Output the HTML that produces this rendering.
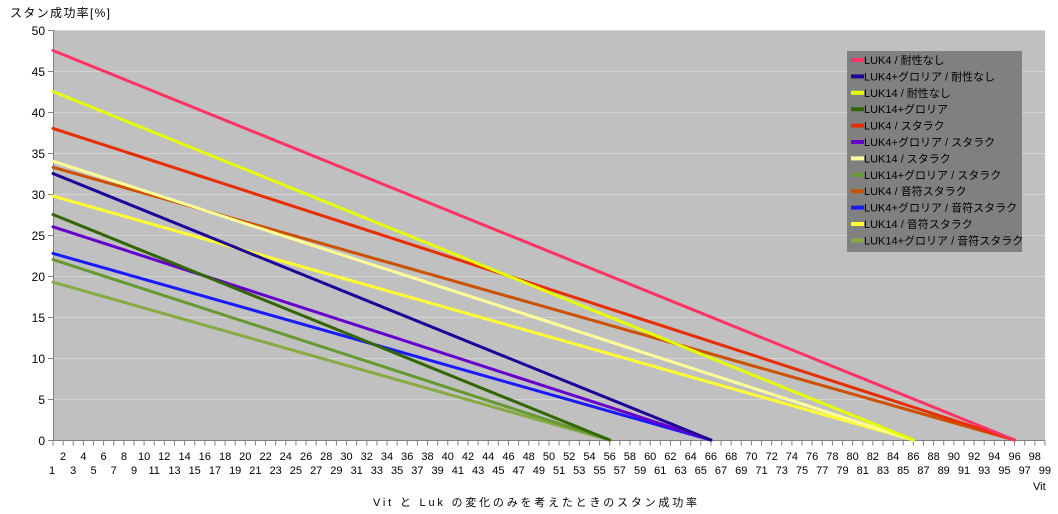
<!DOCTYPE html>
<html><head><meta charset="utf-8"><style>
html,body{margin:0;padding:0;background:#fff;width:1058px;height:514px;overflow:hidden}
svg text{font-family:"Liberation Sans","Noto Sans CJK JP",sans-serif;}
</style></head><body>
<svg width="1058" height="514" viewBox="0 0 1058 514" xmlns="http://www.w3.org/2000/svg">
<rect x="53" y="30" width="992" height="410" fill="#c0c0c0"/>
<g stroke="#d4d4d4" stroke-width="1">
<line x1="53" x2="1045" y1="30.5" y2="30.5"/>
<line x1="53" x2="1045" y1="71.5" y2="71.5"/>
<line x1="53" x2="1045" y1="112.5" y2="112.5"/>
<line x1="53" x2="1045" y1="153.5" y2="153.5"/>
<line x1="53" x2="1045" y1="194.5" y2="194.5"/>
<line x1="53" x2="1045" y1="235.5" y2="235.5"/>
<line x1="53" x2="1045" y1="276.5" y2="276.5"/>
<line x1="53" x2="1045" y1="317.5" y2="317.5"/>
<line x1="53" x2="1045" y1="358.5" y2="358.5"/>
<line x1="53" x2="1045" y1="399.5" y2="399.5"/>
</g>
<g stroke="#808080" stroke-width="1">
<line x1="53.5" x2="53.5" y1="30" y2="440"/>
<line x1="53" x2="1045" y1="440.5" y2="440.5"/>
<path d="M48 30.5h5M48 71.5h5M48 112.5h5M48 153.5h5M48 194.5h5M48 235.5h5M48 276.5h5M48 317.5h5M48 358.5h5M48 399.5h5M48 440.5h5"/>
<line x1="52.5" x2="1046" y1="443" y2="443" stroke-width="5" stroke-dasharray="1 9.122"/>
</g>
<g font-size="12" fill="#000" text-anchor="end">
<text x="45" y="35">50</text><text x="45" y="76">45</text><text x="45" y="117">40</text><text x="45" y="158">35</text><text x="45" y="199">30</text><text x="45" y="240">25</text><text x="45" y="281">20</text><text x="45" y="322">15</text><text x="45" y="363">10</text><text x="45" y="404">5</text><text x="45" y="445">0</text>
</g>
<g font-size="11" fill="#000" text-anchor="middle">
<text x="63.1" y="460">2</text><text x="83.4" y="460">4</text><text x="103.6" y="460">6</text><text x="123.9" y="460">8</text><text x="144.1" y="460">10</text><text x="164.3" y="460">12</text><text x="184.6" y="460">14</text><text x="204.8" y="460">16</text><text x="225.1" y="460">18</text><text x="245.3" y="460">20</text><text x="265.6" y="460">22</text><text x="285.8" y="460">24</text><text x="306.1" y="460">26</text><text x="326.3" y="460">28</text><text x="346.5" y="460">30</text><text x="366.8" y="460">32</text><text x="387.0" y="460">34</text><text x="407.3" y="460">36</text><text x="427.5" y="460">38</text><text x="447.8" y="460">40</text><text x="468.0" y="460">42</text><text x="488.2" y="460">44</text><text x="508.5" y="460">46</text><text x="528.7" y="460">48</text><text x="549.0" y="460">50</text><text x="569.2" y="460">52</text><text x="589.5" y="460">54</text><text x="609.7" y="460">56</text><text x="629.9" y="460">58</text><text x="650.2" y="460">60</text><text x="670.4" y="460">62</text><text x="690.7" y="460">64</text><text x="710.9" y="460">66</text><text x="731.2" y="460">68</text><text x="751.4" y="460">70</text><text x="771.7" y="460">72</text><text x="791.9" y="460">74</text><text x="812.1" y="460">76</text><text x="832.4" y="460">78</text><text x="852.6" y="460">80</text><text x="872.9" y="460">82</text><text x="893.1" y="460">84</text><text x="913.4" y="460">86</text><text x="933.6" y="460">88</text><text x="953.9" y="460">90</text><text x="974.1" y="460">92</text><text x="994.3" y="460">94</text><text x="1014.6" y="460">96</text><text x="1034.8" y="460">98</text>
<text x="52" y="474">1</text><text x="73.2" y="474">3</text><text x="93.5" y="474">5</text><text x="113.7" y="474">7</text><text x="134.0" y="474">9</text><text x="154.2" y="474">11</text><text x="174.5" y="474">13</text><text x="194.7" y="474">15</text><text x="215.0" y="474">17</text><text x="235.2" y="474">19</text><text x="255.4" y="474">21</text><text x="275.7" y="474">23</text><text x="295.9" y="474">25</text><text x="316.2" y="474">27</text><text x="336.4" y="474">29</text><text x="356.7" y="474">31</text><text x="376.9" y="474">33</text><text x="397.1" y="474">35</text><text x="417.4" y="474">37</text><text x="437.6" y="474">39</text><text x="457.9" y="474">41</text><text x="478.1" y="474">43</text><text x="498.4" y="474">45</text><text x="518.6" y="474">47</text><text x="538.9" y="474">49</text><text x="559.1" y="474">51</text><text x="579.3" y="474">53</text><text x="599.6" y="474">55</text><text x="619.8" y="474">57</text><text x="640.1" y="474">59</text><text x="660.3" y="474">61</text><text x="680.6" y="474">63</text><text x="700.8" y="474">65</text><text x="721.0" y="474">67</text><text x="741.3" y="474">69</text><text x="761.5" y="474">71</text><text x="781.8" y="474">73</text><text x="802.0" y="474">75</text><text x="822.3" y="474">77</text><text x="842.5" y="474">79</text><text x="862.8" y="474">81</text><text x="883.0" y="474">83</text><text x="903.2" y="474">85</text><text x="923.5" y="474">87</text><text x="943.7" y="474">89</text><text x="964.0" y="474">91</text><text x="984.2" y="474">93</text><text x="1004.5" y="474">95</text><text x="1024.7" y="474">97</text><text x="1044.9" y="474">99</text>
</g>
<text x="1033" y="490" font-size="11">Vit</text>
<text x="10" y="17" font-size="12" textLength="100" lengthAdjust="spacing">スタン成功率[%]</text>
<text x="373" y="506" font-size="11" textLength="324" lengthAdjust="spacing">Vit と Luk の変化のみを考えたときのスタン成功率</text>
<g stroke-width="3" stroke-linecap="round" fill="none">
<line x1="53" y1="282.15" x2="609.7" y2="440" stroke="#88aa44"/>
<line x1="53" y1="196.05" x2="913.4" y2="440" stroke="#ffff33"/>
<line x1="53" y1="253.45" x2="710.9" y2="440" stroke="#1a1aff"/>
<line x1="53" y1="167.35" x2="1014.6" y2="440" stroke="#cc5200"/>
<line x1="53" y1="259.6" x2="609.7" y2="440" stroke="#669933"/>
<line x1="53" y1="161.2" x2="913.4" y2="440" stroke="#ffff99"/>
<line x1="53" y1="226.8" x2="710.9" y2="440" stroke="#6600cc"/>
<line x1="53" y1="128.4" x2="1014.6" y2="440" stroke="#e62e00"/>
<line x1="53" y1="214.5" x2="609.7" y2="440" stroke="#336600"/>
<line x1="53" y1="91.5" x2="913.4" y2="440" stroke="#e6ff00"/>
<line x1="53" y1="173.5" x2="710.9" y2="440" stroke="#1f0099"/>
<line x1="53" y1="50.5" x2="1014.6" y2="440" stroke="#ff3366"/>
</g>
<rect x="847" y="51" width="175" height="201" fill="#808080"/>
<g stroke-width="4">
<line x1="851" x2="864" y1="60" y2="60" stroke="#ff3366"/>
<line x1="851" x2="864" y1="76.4" y2="76.4" stroke="#1f0099"/>
<line x1="851" x2="864" y1="92.8" y2="92.8" stroke="#e6ff00"/>
<line x1="851" x2="864" y1="109.2" y2="109.2" stroke="#336600"/>
<line x1="851" x2="864" y1="125.6" y2="125.6" stroke="#e62e00"/>
<line x1="851" x2="864" y1="142" y2="142" stroke="#6600cc"/>
<line x1="851" x2="864" y1="158.4" y2="158.4" stroke="#ffff99"/>
<line x1="851" x2="864" y1="174.8" y2="174.8" stroke="#669933"/>
<line x1="851" x2="864" y1="191.2" y2="191.2" stroke="#cc5200"/>
<line x1="851" x2="864" y1="207.6" y2="207.6" stroke="#1a1aff"/>
<line x1="851" x2="864" y1="224" y2="224" stroke="#ffff33"/>
<line x1="851" x2="864" y1="240.4" y2="240.4" stroke="#88aa44"/>
</g>
<g font-size="11" fill="#000">
<text x="864" y="64">LUK4 / 耐性なし</text>
<text x="864" y="80.4">LUK4+グロリア / 耐性なし</text>
<text x="864" y="96.8">LUK14 / 耐性なし</text>
<text x="864" y="113.2">LUK14+グロリア</text>
<text x="864" y="129.6">LUK4 / スタラク</text>
<text x="864" y="146">LUK4+グロリア / スタラク</text>
<text x="864" y="162.4">LUK14 / スタラク</text>
<text x="864" y="178.8">LUK14+グロリア / スタラク</text>
<text x="864" y="195.2">LUK4 / 音符スタラク</text>
<text x="864" y="211.6">LUK4+グロリア / 音符スタラク</text>
<text x="864" y="228">LUK14 / 音符スタラク</text>
<text x="864" y="244.4">LUK14+グロリア / 音符スタラク</text>
</g>
</svg>
</body></html>
